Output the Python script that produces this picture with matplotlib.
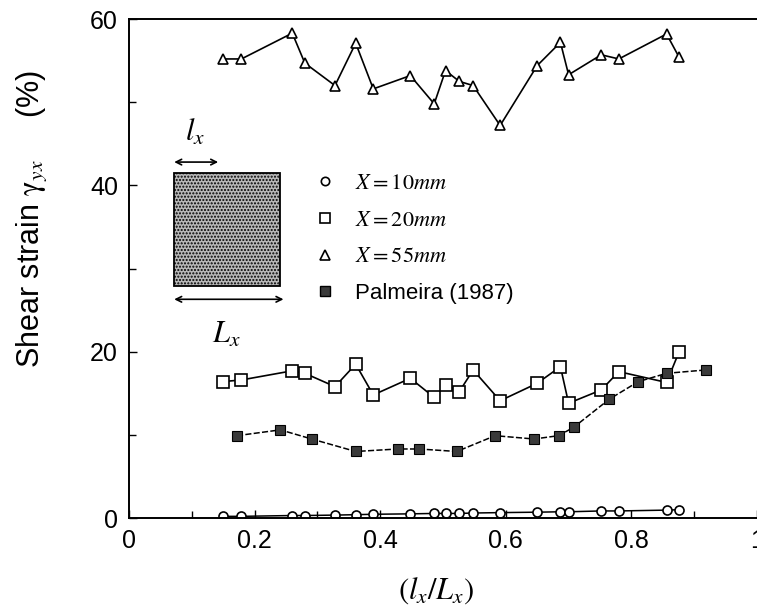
import matplotlib
matplotlib.use("Agg")
import matplotlib.pyplot as plt
from matplotlib.lines import Line2D
from matplotlib.patches import Rectangle

plt.rcParams['font.family'] = ['Liberation Sans', 'DejaVu Sans']
plt.rcParams['mathtext.fontset'] = 'stix'
plt.rcParams['hatch.color'] = '#555555'
plt.rcParams['hatch.linewidth'] = 1.0

# ratio l_x / L_x for the three test series
x_test = [0.149, 0.179, 0.260, 0.280, 0.328, 0.361, 0.389, 0.448, 0.486, 0.504,
          0.526, 0.548, 0.591, 0.650, 0.687, 0.700, 0.752, 0.780, 0.856, 0.876]

# shear strain (%)
x10mm = [0.2, 0.2, 0.3, 0.3, 0.35, 0.4, 0.45, 0.5, 0.55, 0.55,
         0.55, 0.6, 0.65, 0.7, 0.75, 0.75, 0.85, 0.85, 0.95, 1.0]
x20mm = [16.4, 16.6, 17.7, 17.4, 15.8, 18.5, 14.8, 16.8, 14.5, 16.0,
         15.2, 17.8, 14.1, 16.2, 18.2, 13.8, 15.4, 17.6, 16.3, 20.0]
x55mm = [55.2, 55.2, 58.3, 54.7, 52.0, 57.1, 51.6, 53.2, 49.8, 53.8,
         52.5, 52.0, 47.2, 54.4, 57.2, 53.3, 55.7, 55.2, 58.2, 55.4]

x_palm = [0.172, 0.241, 0.291, 0.361, 0.428, 0.462, 0.522, 0.583, 0.645,
          0.684, 0.708, 0.765, 0.811, 0.856, 0.918]
y_palm = [9.9, 10.6, 9.5, 8.0, 8.3, 8.3, 8.0, 9.9, 9.5, 9.9, 10.9, 14.3,
          16.4, 17.4, 17.8]

xticks = [0, 0.2, 0.4, 0.6, 0.8, 1.0]
xticklabels = ['0', '0.2', '0.4', '0.6', '0.8', '1']
yticks = [0, 20, 40, 60]
yticklabels = ['0', '20', '40', '60']

fig = plt.figure(figsize=(7.57, 6.10), dpi=100)
ax = fig.add_axes([0.1704, 0.1508, 0.8296, 0.818])

ax.plot(x_test, x10mm, '-', color='black', lw=1.1, marker='o', ms=6.5,
        mfc='white', mec='black', mew=1.2)
ax.plot(x_test, x20mm, '-', color='black', lw=1.2, marker='s', ms=8,
        mfc='white', mec='black', mew=1.2)
ax.plot(x_test, x55mm, '-', color='black', lw=1.2, marker='^', ms=7.5,
        mfc='white', mec='black', mew=1.2)
ax.plot(x_palm, y_palm, '--', dashes=(4, 1.5), color='black', lw=1.1,
        marker='s', ms=7.5, mfc='#3a3a3a', mec='black', mew=0.8)

# schematic of the sample with l_x and L_x
ax.add_patch(Rectangle((0.072, 27.9), 0.168, 13.6, facecolor='#b8b8b8',
                       edgecolor='black', lw=1.3, hatch='.....'))
ax.annotate('', xy=(0.072, 42.8), xytext=(0.142, 42.8),
            arrowprops=dict(arrowstyle='<->', lw=1.2, color='black',
                            shrinkA=0, shrinkB=0))
ax.annotate('', xy=(0.072, 26.3), xytext=(0.246, 26.3),
            arrowprops=dict(arrowstyle='<->', lw=1.2, color='black',
                            shrinkA=0, shrinkB=0))
ax.text(0.105, 46.3, r'$l_x$', fontsize=22, ha='center', va='center')
ax.text(0.155, 22.0, r'$L_x$', fontsize=22, ha='center', va='center')

handles = [
    Line2D([], [], ls='none', marker='o', ms=6, mfc='white', mec='black', mew=1.2),
    Line2D([], [], ls='none', marker='s', ms=6.5, mfc='white', mec='black', mew=1.2),
    Line2D([], [], ls='none', marker='^', ms=6.5, mfc='white', mec='black', mew=1.2),
    Line2D([], [], ls='none', marker='s', ms=6.5, mfc='#3a3a3a', mec='black'),
]
labels = [r'$X = 10mm$', r'$X = 20mm$', r'$X = 55mm$', 'Palmeira (1987)']
ax.legend(handles, labels, loc='upper left', bbox_to_anchor=(0.301, 0.691),
          frameon=False, fontsize=16, handlelength=0.6, handletextpad=1.05,
          borderpad=0, borderaxespad=0, labelspacing=0.7)

ax.set_xlim(0, 1.0)
ax.set_ylim(0, 60)
ax.set_xticks(xticks)
ax.set_xticklabels(xticklabels)
ax.set_xticks([0.1, 0.3, 0.5, 0.7, 0.9], minor=True)
ax.set_yticks(yticks)
ax.set_yticklabels(yticklabels)
ax.set_yticks([10, 30, 50], minor=True)
ax.tick_params(which='both', direction='in', top=False, right=False,
               labelsize=18, width=1)
ax.tick_params(which='major', length=6, pad=8)
ax.tick_params(which='minor', length=5)
ax.spines['right'].set_visible(False)
for s in ['left', 'top', 'bottom']:
    ax.spines[s].set_linewidth(1.4)

ax.set_xlabel(r'$(l_x/L_x)$', fontsize=22)
ax.xaxis.set_label_coords(0.49, -0.115)
ax.set_ylabel(r'Shear strain $\mathrm{\gamma}_{yx}$     (%)', fontsize=22,
              va='center')
ax.yaxis.set_label_coords(-0.154, 0.60)

fig.savefig('out.png', dpi=100)
